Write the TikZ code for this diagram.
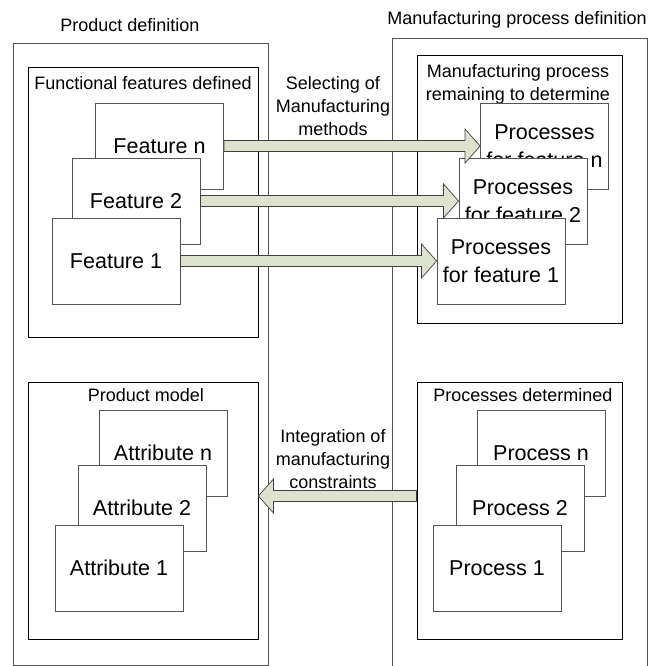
\documentclass[tikz,border=0pt]{standalone}
\usepackage{fontspec}
\setmainfont{Liberation Sans}
\usetikzlibrary{calc,fit}
\definecolor{arrowfill}{RGB}{221,226,206}
\definecolor{boxline}{RGB}{85,85,85}
\tikzset{
  outerbox/.style={draw=boxline, line width=0.6pt, inner sep=0pt},
  groupbox/.style={draw=black, line width=0.6pt, inner sep=0pt},
  itembox/.style={draw=boxline, fill=white, line width=0.6pt, inner sep=0pt,
    minimum width=3.2cm, minimum height=2.15cm, align=center,
    font=\fontsize{15.3pt}{20.3pt}\selectfont},
  boxtitle/.style={inner sep=0pt, align=center,
    font=\fontsize{12.8pt}{16.4pt}\selectfont},
  fatarrow/.style={draw=black!75, fill=arrowfill, line width=0.5pt,
    to path={let \p1=(\tikztostart), \p2=(\tikztotarget),
      \p3=($(\p2)!10.7pt!(\p1)$) in
      (\x1,\y1+3.9pt) -- (\x3,\y1+3.9pt) -- (\x3,\y1+12.1pt) -- (\x2,\y1)
      -- (\x3,\y1-12.1pt) -- (\x3,\y1-3.9pt) -- (\x1,\y1-3.9pt) -- cycle}}
}
\begin{document}
\begin{tikzpicture}[x=0.025cm, y=-0.025cm]
                \useasboundingbox (0,0) rectangle (657,666);

                % Product definition side
                \node[outerbox, fit={(13,43) (268,665)}] (pd) {};%
                \node[boxtitle] (pdtitle) at (130,25) {Product definition};%
                \node[groupbox, fit={(28,67) (258,337)}] (ff) {};%
                \node[boxtitle] (fftitle) at (143,83) {Functional features defined};%
                \node[groupbox, fit={(28,382) (258,639)}] (pm) {};%
                \node[boxtitle] (pmtitle) at (146,395) {Product model};%

                % Manufacturing process definition side
                \node[outerbox, fit={(392,38) (647,680)}] (mp) {};%
                \node[boxtitle] (mptitle) at (517,20) {Manufacturing process definition};%
                \node[groupbox, fit={(417,55) (622,323)}] (mr) {};%
                \node[boxtitle] (mrtitle) at (518,84) {Manufacturing process\\remaining to determine};%
                \node[groupbox, fit={(417,382) (622,639)}] (pdt) {};%
                \node[boxtitle] (pdttitle) at (523,395) {Processes determined};%

                % Features
                \node[itembox] (fn) at (159.5,146) {Feature n};%
                \node[itembox] (f2) at (136,201) {Feature 2};%
                \node[itembox] (f1) at (116,261) {Feature 1};%

                % Processes for features
                \node[itembox] (pn) at (544.5,146) {Processes\\for feature n};%
                \node[itembox] (p2) at (523,201) {Processes\\for feature 2};%
                \node[itembox] (p1) at (501,261) {Processes\\for feature 1};%

                % Attributes
                \node[itembox] (an) at (163,453) {Attribute n};%
                \node[itembox] (a2) at (142,508) {Attribute 2};%
                \node[itembox] (a1) at (119,568) {Attribute 1};%

                % Processes
                \node[itembox] (prn) at (541,453) {Process n};%
                \node[itembox] (pr2) at (520,508) {Process 2};%
                \node[itembox] (pr1) at (497,568) {Process 1};%

                % Arrow labels
                \node[boxtitle] (sellabel) at (333,106) {Selecting of\\Manufacturing\\methods};%
                \node[boxtitle] (intlabel) at (333,459) {Integration of\\manufacturing\\constraints};%

                % Drawing arrows
                \draw[fatarrow] (fn.east) to (pn.west);%
                \draw[fatarrow] (f2.east) to (p2.west);%
                \draw[fatarrow] (f1.east) to (p1.west);%
                \coordinate (constr) at (0,496);%
                \draw[fatarrow] (pdt.west |- constr) to (pm.east |- constr);%
\end{tikzpicture}
\end{document}
